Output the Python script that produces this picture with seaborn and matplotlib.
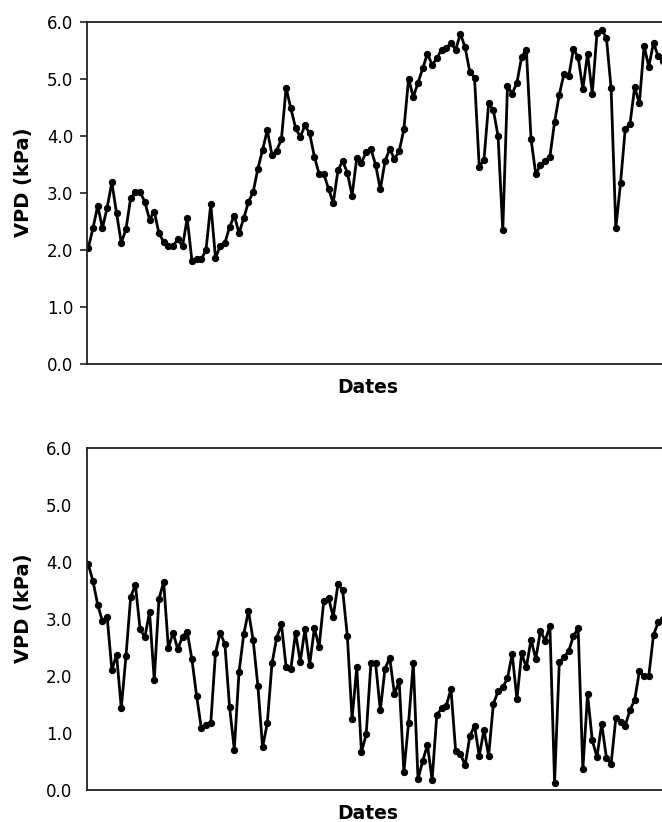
import numpy as np
import pandas as pd
import matplotlib
matplotlib.use("Agg")
import matplotlib.pyplot as plt
import seaborn as sns

# === DATA ===
vpd_top = [2.04, 2.39, 2.78, 2.39, 2.75, 3.19, 2.65, 2.13, 2.37, 2.92,
           3.02, 3.02, 2.85, 2.54, 2.68, 2.30, 2.15, 2.07, 2.07, 2.20,
           2.07, 2.56, 1.82, 1.84, 1.84, 2.01, 2.81, 1.87, 2.07, 2.13,
           2.41, 2.61, 2.30, 2.56, 2.85, 3.02, 3.43, 3.76, 4.11, 3.67,
           3.75, 3.95, 4.85, 4.49, 4.15, 3.99, 4.19, 4.05, 3.64, 3.34,
           3.34, 3.08, 2.83, 3.40, 3.57, 3.36, 2.96, 3.62, 3.54, 3.72,
           3.78, 3.50, 3.07, 3.56, 3.78, 3.60, 3.74, 4.12, 5.01, 4.69,
           4.94, 5.19, 5.45, 5.25, 5.37, 5.52, 5.55, 5.63, 5.52, 5.80,
           5.56, 5.13, 5.03, 3.47, 3.58, 4.58, 4.46, 4.00, 2.35, 4.88,
           4.75, 4.94, 5.39, 5.52, 3.95, 3.34, 3.49, 3.57, 3.64, 4.25,
           4.73, 5.10, 5.05, 5.53, 5.39, 4.83, 5.45, 4.75, 5.81, 5.87,
           5.73, 4.84, 2.39, 3.18, 4.13, 4.21, 4.86, 4.58, 5.59, 5.22,
           5.64, 5.40, 5.32, 4.95]

vpd_bottom = [3.96, 3.66, 3.25, 2.96, 3.04, 2.11, 2.37, 1.44, 2.35, 3.39,
              3.60, 2.82, 2.68, 3.12, 1.93, 3.35, 3.65, 2.49, 2.76, 2.47,
              2.69, 2.78, 2.29, 1.65, 1.08, 1.14, 1.17, 2.40, 2.76, 2.56,
              1.45, 0.71, 2.07, 2.73, 3.14, 2.63, 1.83, 0.75, 1.17, 2.22,
              2.67, 2.91, 2.16, 2.12, 2.76, 2.25, 2.82, 2.20, 2.84, 2.51,
              3.32, 3.37, 3.04, 3.61, 3.51, 2.70, 1.25, 2.15, 0.66, 0.98,
              2.22, 2.22, 1.40, 2.13, 2.32, 1.68, 1.91, 0.32, 1.18, 2.23,
              0.19, 0.51, 0.79, 0.18, 1.32, 1.43, 1.48, 1.77, 0.68, 0.64,
              0.43, 0.94, 1.13, 0.60, 1.05, 0.60, 1.51, 1.73, 1.80, 1.96,
              2.39, 1.59, 2.40, 2.15, 2.64, 2.30, 2.79, 2.62, 2.88, 0.13,
              2.24, 2.33, 2.44, 2.70, 2.84, 0.36, 1.68, 0.87, 0.58, 1.16,
              0.57, 0.46, 1.26, 1.20, 1.13, 1.40, 1.58, 2.08, 2.00, 2.00,
              2.72, 2.94, 3.00]

y_ticks = [0.0, 1.0, 2.0, 3.0, 4.0, 5.0, 6.0]

# === STYLE ===
sns.set_style("ticks")
plt.rcParams['font.family'] = ['DejaVu Sans']

W, H = 662, 822
fig = plt.figure(figsize=(W / 100, H / 100), dpi=100)

# axes run past the right edge of the figure (chart is cropped there)
LEFT_PX, RIGHT_PX = 87, 670
STEP_PX, FIRST_PX = 4.71, 88.3
xlim = ((LEFT_PX - FIRST_PX) / STEP_PX, (RIGHT_PX - FIRST_PX) / STEP_PX)
ax_w = (RIGHT_PX - LEFT_PX) / W
ax_h = 342 / H

panels = [
    (vpd_top, (H - 364.3) / H, True),
    (vpd_bottom, (H - 790) / H, False),
]

for values, bottom, with_ticks in panels:
    ax = fig.add_axes([LEFT_PX / W, bottom, ax_w, ax_h])
    df = pd.DataFrame({"day": np.arange(len(values)), "vpd": values})
    sns.lineplot(data=df, x="day", y="vpd", ax=ax, color="black",
                 linewidth=2.0, marker="o", markersize=4.5,
                 markeredgecolor="black", markerfacecolor="black")

    ax.set_xlim(*xlim)
    ax.set_ylim(0, 6)
    ax.set_yticks(y_ticks)
    ax.set_yticklabels([f"{t:.1f}" for t in y_ticks])
    ax.set_xticks([])

    for side in ["left", "bottom", "top"]:
        ax.spines[side].set_visible(True)
        ax.spines[side].set_color("#222222")
        ax.spines[side].set_linewidth(1.3)
    ax.spines["right"].set_visible(False)

    if with_ticks:
        ax.tick_params(axis="y", length=5, width=1.2, color="#222222",
                       pad=5, labelsize=12, labelcolor="black")
    else:
        ax.tick_params(axis="y", length=0, pad=10.5, labelsize=12,
                       labelcolor="black")

    ax.set_ylabel("VPD (kPa)", fontsize=14, fontweight="bold", color="black")
    ax.set_xlabel("Dates", fontsize=13.5, fontweight="bold", color="black")
    ax.yaxis.set_label_coords(-0.093, 0.532)
    ax.xaxis.set_label_coords(0.481, -0.040)
    ax.xaxis.label.set_va("top")
    ax.grid(False)

plt.savefig("out.png", dpi=100)
